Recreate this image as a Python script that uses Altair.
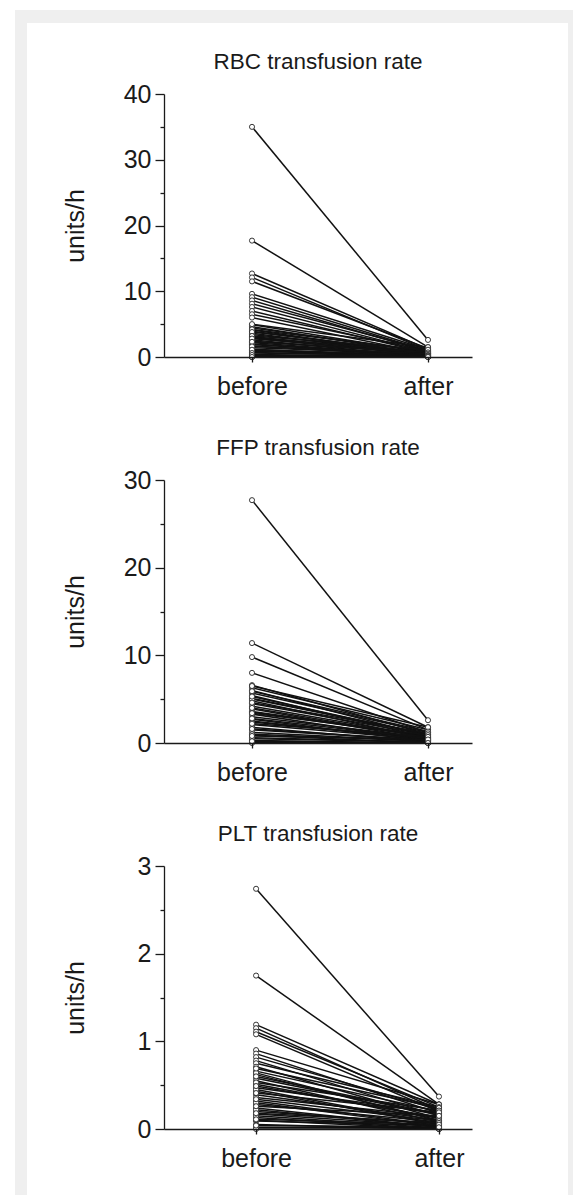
import altair as alt
import pandas as pd

phases = ["before", "after"]

rbc_before = [35.0, 17.7, 12.7, 12.1, 11.5, 9.6, 9.1, 8.6, 8.1, 7.6, 7.0, 6.5, 6.0,
              4.9, 4.6, 4.4, 4.1, 3.9, 3.6, 3.4, 3.1, 2.9, 2.6, 2.4, 2.2, 1.9, 1.7,
              1.4, 1.2, 0.9, 0.7, 0.4, 0.2, 0.1, 0.0, 0.0, 5.0, 3.0, 2.0, 1.0,
              4.2, 3.8, 3.2, 2.8, 2.3, 1.6, 1.1, 0.6, 0.3, 0.0]
rbc_after = [2.6, 1.5, 1.2, 1.0, 1.3, 1.1, 0.9, 0.8, 1.0, 0.7, 0.6, 0.9, 0.5,
             0.6, 0.4, 0.8, 0.3, 0.5, 0.2, 0.6, 0.4, 0.3, 0.0, 0.5, 0.2, 0.3, 0.1,
             0.4, 0.0, 0.2, 0.1, 0.0, 0.0, 0.0, 0.0, 0.1, 1.5, 0.7, 0.3, 0.2,
             0.9, 0.6, 1.1, 0.4, 0.7, 0.5, 0.3, 0.2, 0.1, 0.0]

ffp_before = [27.7, 11.4, 9.8, 8.0, 6.6, 6.3, 6.0, 5.7, 5.4, 5.1, 4.8, 4.5, 4.2,
              3.9, 3.6, 3.3, 3.0, 2.7, 2.4, 2.1, 1.8, 1.5, 1.2, 0.9, 0.6, 0.3,
              0.1, 0.0, 6.5, 5.0, 3.5, 2.5, 1.0, 0.5,
              5.9, 5.3, 4.6, 4.0, 3.4, 2.8, 2.2, 1.6, 0.8, 0.2]
ffp_after = [2.6, 1.8, 1.5, 1.2, 1.0, 1.5, 0.8, 1.2, 0.6, 1.0, 0.5, 0.9, 0.7,
             0.4, 0.8, 0.3, 0.6, 0.2, 0.5, 0.4, 0.1, 0.3, 0.2, 0.0, 0.1, 0.0,
             0.0, 0.0, 1.8, 1.0, 0.7, 0.3, 0.2, 0.1,
             1.3, 0.9, 1.1, 0.6, 0.9, 0.5, 0.7, 0.3, 0.4, 0.0]

plt_before = [2.74, 1.75, 1.19, 1.15, 1.11, 1.08, 0.90, 0.86, 0.82, 0.78, 0.75,
              0.71, 0.66, 0.62, 0.58, 0.55, 0.51, 0.47, 0.43, 0.39, 0.36, 0.32,
              0.28, 0.24, 0.20, 0.17, 0.13, 0.09, 0.05, 0.02, 0.0, 0.64, 0.45,
              0.30, 0.22, 0.15, 0.10,
              0.69, 0.60, 0.53, 0.49, 0.41, 0.34, 0.26, 0.18, 0.11, 0.04]
plt_after = [0.37, 0.28, 0.28, 0.22, 0.25, 0.20, 0.28, 0.18, 0.22, 0.15, 0.25,
             0.12, 0.20, 0.10, 0.16, 0.08, 0.12, 0.18, 0.05, 0.10, 0.14, 0.04,
             0.08, 0.02, 0.06, 0.03, 0.0, 0.04, 0.0, 0.01, 0.0, 0.09, 0.06,
             0.03, 0.02, 0.01, 0.0,
             0.24, 0.17, 0.21, 0.13, 0.19, 0.09, 0.15, 0.07, 0.05, 0.02]

titles = ["RBC transfusion rate", "FFP transfusion rate", "PLT transfusion rate"]
y_title = "units/h"

FONT = "Liberation Sans"
INK = "#1a1a1a"
W, H = 308, 263
LABEL_SIZE = 25
TITLE_SIZE = 22.5


def long_df(before, after):
    rows = []
    for i, (b, a) in enumerate(zip(before, after)):
        rows.append({"pid": i, "phase": "before", "value": b})
        rows.append({"pid": i, "phase": "after", "value": a})
    return pd.DataFrame(rows)


def panel(before, after, title, ymax, major, minor, pad, align):
    df = long_df(before, after)
    n = int(round(ymax / minor))
    ticks = [round(i * minor, 6) for i in range(n + 1)]
    test = f"abs(datum.value / {major} - round(datum.value / {major})) < 1e-6"
    x = alt.X(
        "phase:N", sort=phases, title=None,
        scale=alt.Scale(type="point", padding=pad, align=align),
        axis=alt.Axis(labelAngle=0, tickSize=5, labelPadding=12, labelFont=FONT,
                      labelFontSize=LABEL_SIZE, labelColor=INK, domainColor=INK,
                      tickColor=INK, domainWidth=1.3, tickWidth=1.3, zindex=1,
                      labelBaseline="top"),
    )
    y = alt.Y(
        "value:Q",
        scale=alt.Scale(domain=[0, ymax], nice=False, zero=True),
        axis=alt.Axis(values=ticks, format="~g",
                      labelExpr=f"{test} ? datum.label : ''",
                      tickSize={"condition": {"test": test, "value": 9}, "value": 4},
                      labelPadding=4, labelFont=FONT, labelFontSize=LABEL_SIZE,
                      labelColor=INK, domainColor=INK, tickColor=INK,
                      domainWidth=1.3, tickWidth=1.3, grid=False, zindex=1,
                      title=y_title, titleFont=FONT, titleFontSize=LABEL_SIZE,
                      titleFontWeight="normal", titleColor=INK, titleAngle=270,
                      titleX=-89, titleY=H / 2, titleAlign="center",
                      titleBaseline="middle"),
    )
    base = alt.Chart(df)
    lines = base.mark_line(color="#111111", strokeWidth=1.5).encode(
        x=x, y=y, detail="pid:N")
    pts = base.mark_circle(color="white", stroke="#222222", strokeWidth=0.9,
                           size=26, opacity=1).encode(x=x, y=y)
    return alt.layer(lines, pts).properties(
        width=W, height=H,
        title=alt.TitleParams(title, font=FONT, fontSize=TITLE_SIZE,
                              fontWeight="normal", color=INK, anchor="middle",
                              offset=9),
    )


# page frame (decoration): light gray border with white inner panel
one = pd.DataFrame({"k": [0]})
gray = alt.Chart(one).mark_rect(color="#efefef").encode(
    x=alt.value(-149), x2=alt.value(409), y=alt.value(-27), y2=alt.value(1158))
white = alt.Chart(one).mark_rect(color="white").encode(
    x=alt.value(-137), x2=alt.value(404), y=alt.value(-14), y2=alt.value(1158))
frame = alt.layer(gray, white).properties(width=W, height=1)

p1 = panel(rbc_before, rbc_after, titles[0], 40, 10, 5, 0.375, 0.6667)
p2 = panel(ffp_before, ffp_after, titles[1], 30, 10, 5, 0.375, 0.6667)
p3 = panel(plt_before, plt_after, titles[2], 3, 1, 0.5, 0.342, 0.736)

panels = alt.vconcat(p1, p2, p3, spacing=123, bounds="flush").resolve_scale(
    x="independent", y="independent")

chart = alt.vconcat(frame, panels, spacing=56, bounds="flush").properties(
    padding={"left": 7, "top": 2, "right": 0, "bottom": 0},
    background="white",
).configure_view(stroke=None)

chart.save("out.html", embed_options={"renderer": "svg", "actions": False})
